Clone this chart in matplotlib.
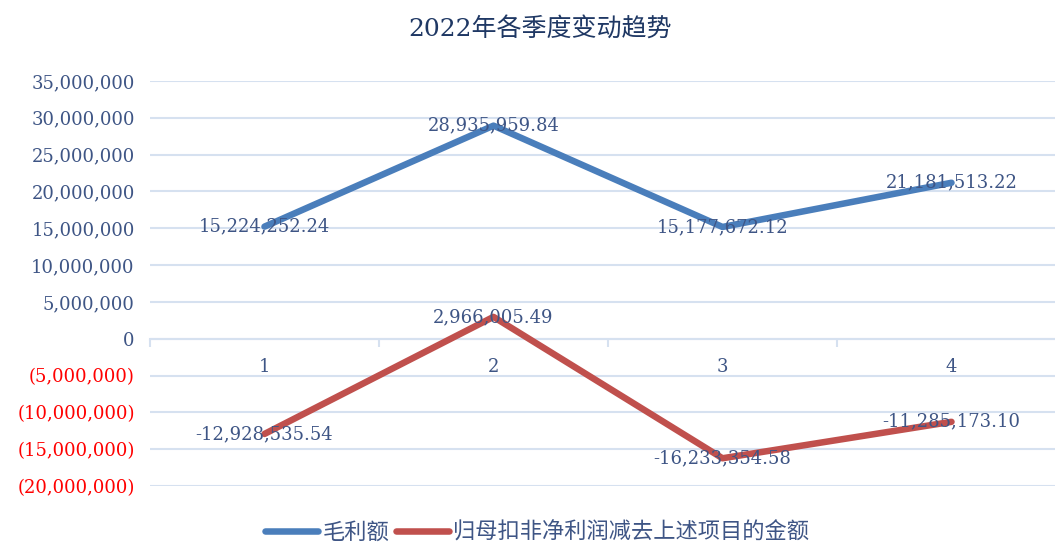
import matplotlib
matplotlib.use('Agg')
import matplotlib.pyplot as plt
from matplotlib.ticker import FuncFormatter

# 数据
quarters = [1, 2, 3, 4]
gross_profit = [15224252.24, 28935959.84, 15177672.12, 21181513.22]
net_profit_adj = [-12928535.54, 2966005.49, -16233354.58, -11285173.10]
series_names = ['毛利额', '归母扣非净利润减去上述项目的金额']
title = '2022年各季度变动趋势'

fonts = ['DejaVu Serif', 'Noto Sans CJK SC', 'DejaVu Sans']
plt.rcParams['font.family'] = fonts

blue = '#4A7EBB'
red = '#C0504D'
grid_c = '#D6E1F0'
txt_c = '#3E5585'

fig = plt.figure(figsize=(10.55, 5.42), dpi=100)
ax = fig.add_axes([150 / 1055, 1 - 486 / 542, 916 / 1055, 405 / 542])

l1, = ax.plot(quarters, gross_profit, color=blue, lw=4.7, solid_capstyle='round', zorder=3)
l2, = ax.plot(quarters, net_profit_adj, color=red, lw=4.7, solid_capstyle='round', zorder=3)

ax.set_xlim(0.5, 4.5)
ax.set_ylim(-20000000, 35000000)
ax.set_yticks(range(-20000000, 35000001, 5000000))

def fmt(v, pos):
    if v == 0:
        return '0'
    if v < 0:
        return '({:,.0f})'.format(-v)
    return '{:,.0f}'.format(v)

ax.yaxis.set_major_formatter(FuncFormatter(fmt))
ax.tick_params(axis='y', length=0, pad=11, labelsize=13)
for lab, v in zip(ax.get_yticklabels(), ax.get_yticks()):
    lab.set_color('#FF0000' if v < 0 else txt_c)

ax.grid(axis='y', color=grid_c, lw=1.5)
ax.set_axisbelow(True)
for s in ['top', 'right', 'left']:
    ax.spines[s].set_visible(False)
ax.spines['bottom'].set_position(('data', 0))
ax.spines['bottom'].set_color(grid_c)
ax.spines['bottom'].set_linewidth(1.5)

ax.set_xticks(quarters)
ax.set_xticklabels([str(q) for q in quarters])
ax.set_xticks([0.5, 1.5, 2.5, 3.5, 4.5], minor=True)
ax.tick_params(axis='x', which='major', length=0, pad=14, labelsize=13, labelcolor=txt_c)
ax.tick_params(axis='x', which='minor', length=6, width=1.5, color=grid_c, direction='out')

for x, y in zip(quarters, gross_profit):
    ax.text(x, y, '{:,.2f}'.format(y), ha='center', va='center', fontsize=13, color=txt_c, zorder=4)
for x, y in zip(quarters, net_profit_adj):
    ax.text(x, y, '{:,.2f}'.format(y), ha='center', va='center', fontsize=13, color=txt_c, zorder=4)

fig.text(540 / 1055, 1 - 30 / 542, title, ha='center', va='center', fontsize=18, color='#1F3864')

fig.legend([l1, l2], series_names, loc='center', bbox_to_anchor=(537 / 1055, 1 - 533 / 542),
           ncol=2, frameon=False, fontsize=16, handlelength=2.4, columnspacing=0.3, handletextpad=0.2,
           labelcolor=txt_c)

fig.savefig('out.png', dpi=100)
